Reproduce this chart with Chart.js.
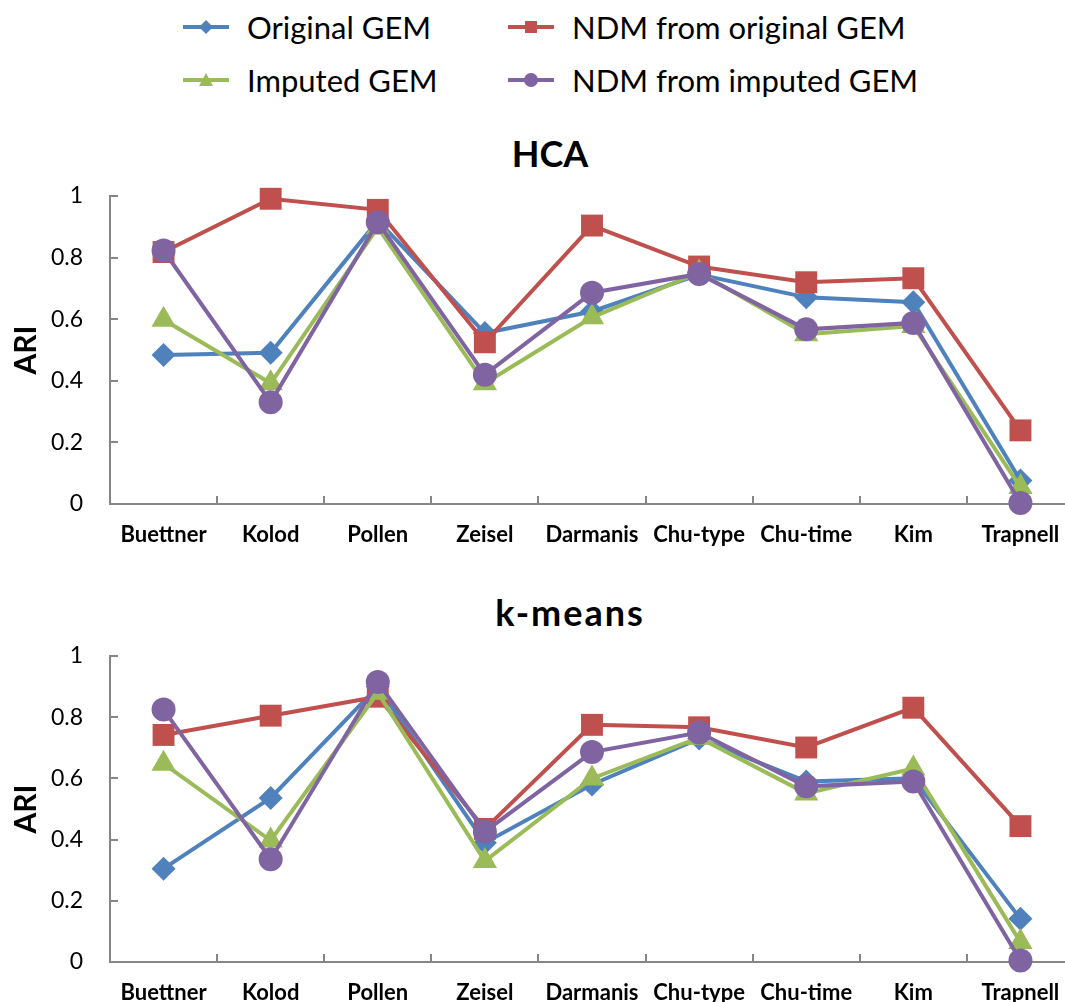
<!DOCTYPE html>
<html>
<head>
<meta charset="utf-8">
<title>ARI of clustering methods</title>
<script src="https://cdn.jsdelivr.net/npm/chart.js@4/dist/chart.umd.min.js"></script>
<style>
  html, body { margin: 0; padding: 0; background: #fff; overflow: hidden; }
  body { width: 1065px; height: 1002px; position: relative; font-family: Lato, "Open Sans", sans-serif; }
  .legend-item { position: absolute; display: flex; align-items: center; height: 40px; font-size: 31px; color: #000; white-space: nowrap; }
  .legend-item svg { margin-right: 18px; }
  .panel-title { position: absolute; transform: translate(-50%, -50%); font-weight: bold; font-size: 36px; color: #000; white-space: nowrap; }
  canvas { position: absolute; left: 0; }
</style>
</head>
<body>
<div id="legend"></div>
<div class="panel-title" id="title1" style="left:550px; top:153px;">HCA</div>
<div class="panel-title" id="title2" style="left:570px; top:612px; letter-spacing:2px;">k-means</div>
<canvas id="hca" width="1100" height="380" style="top:180px"></canvas>
<canvas id="kmeans" width="1100" height="362" style="top:640px"></canvas>
<script>
// Datasets (scRNA-seq benchmarks) on the x axis
const datasets = ['Buettner', 'Kolod', 'Pollen', 'Zeisel', 'Darmanis', 'Chu-type', 'Chu-time', 'Kim', 'Trapnell'];

// Series names
const seriesNames = ['Original GEM', 'NDM from original GEM', 'Imputed GEM', 'NDM from imputed GEM'];

// ARI with hierarchical clustering (HCA)
const hcaOriginal      = [0.484, 0.491, 0.920, 0.555, 0.625, 0.745, 0.671, 0.655, 0.076];
const hcaNdmOriginal   = [0.818, 0.991, 0.955, 0.525, 0.904, 0.771, 0.720, 0.733, 0.239];
const hcaImputed       = [0.598, 0.392, 0.898, 0.392, 0.606, 0.752, 0.551, 0.578, 0.055];
const hcaNdmImputed    = [0.823, 0.330, 0.915, 0.420, 0.686, 0.747, 0.567, 0.588, 0.003];

// ARI with k-means
const kmOriginal       = [0.305, 0.536, 0.900, 0.390, 0.580, 0.730, 0.590, 0.600, 0.141];
const kmNdmOriginal    = [0.742, 0.805, 0.867, 0.435, 0.775, 0.767, 0.701, 0.831, 0.444];
const kmImputed        = [0.648, 0.397, 0.880, 0.330, 0.600, 0.733, 0.551, 0.632, 0.065];
const kmNdmImputed     = [0.825, 0.336, 0.915, 0.426, 0.686, 0.750, 0.574, 0.590, 0.005];

// Y axis ticks and their labels
const yTicks = [0, 0.2, 0.4, 0.6, 0.8, 1];
const yTickLabels = ['0', '0.2', '0.4', '0.6', '0.8', '1'];

const colors = ['#4F81BD', '#C0504D', '#9BBB59', '#8064A2'];
const pointStyles = ['rectRot', 'rect', 'triangle', 'circle'];
const pointRadii = [12, 15.5, 14, 12];
// purple on top, then green, red, blue
const drawOrder = [3, 2, 1, 0];
const axisColor = '#868686';

// HTML legend in two columns
const legendIcons = [
  '<polygon points="23,3 30,10 23,17 16,10" fill="#4F81BD"/>',
  '<rect x="17" y="4" width="12" height="12" fill="#C0504D"/>',
  '<polygon points="23,3 30,16 16,16" fill="#9BBB59"/>',
  '<circle cx="23" cy="10" r="7" fill="#8064A2"/>'
];
const legendPos = [[183, 7], [508, 7], [183, 60], [508, 60]];
const legend = document.getElementById('legend');
seriesNames.forEach((name, i) => {
  const item = document.createElement('div');
  item.className = 'legend-item';
  item.style.left = legendPos[i][0] + 'px';
  item.style.top = legendPos[i][1] + 'px';
  item.innerHTML = '<svg width="46" height="20" viewBox="0 0 46 20">' +
    '<line x1="1" y1="10" x2="45" y2="10" stroke="' + colors[i] + '" stroke-width="4" stroke-linecap="round"/>' +
    legendIcons[i] + '</svg><span>' + name + '</span>';
  legend.appendChild(item);
});

function buildDatasets(values) {
  return values.map((data, i) => ({
    label: seriesNames[i],
    data: data,
    borderColor: colors[i],
    backgroundColor: colors[i],
    pointBackgroundColor: colors[i],
    pointBorderColor: colors[i],
    pointBorderWidth: 0,
    borderWidth: 4,
    pointStyle: pointStyles[i],
    pointRadius: pointRadii[i],
    pointHoverRadius: pointRadii[i],
    tension: 0,
    clip: false,
    order: drawOrder[i]
  }));
}

function makeChart(id, values, xAxisHeight) {
  return new Chart(document.getElementById(id), {
    type: 'line',
    data: { labels: datasets, datasets: buildDatasets(values) },
    options: {
      responsive: false,
      animation: false,
      events: [],
      layout: { padding: { top: 16, right: 26, left: 0, bottom: 0 } },
      plugins: { legend: { display: false }, title: { display: false }, tooltip: { enabled: false } },
      scales: {
        x: {
          type: 'category',
          offset: true,
          grid: { offset: true, drawOnChartArea: false, drawTicks: true, tickLength: -8, color: axisColor, lineWidth: 2 },
          border: { display: true, color: axisColor, width: 2 },
          ticks: { color: '#000', font: { family: 'Lato', size: 22, weight: 'bold' }, padding: 26, maxRotation: 0, autoSkip: false },
          afterFit: (s) => { s.height = xAxisHeight; }
        },
        y: {
          min: 0,
          max: 1,
          afterBuildTicks: (s) => { s.ticks = yTicks.map(v => ({ value: v })); },
          grid: { drawOnChartArea: false, drawTicks: true, tickLength: -8, color: axisColor, lineWidth: 2 },
          border: { display: true, color: axisColor, width: 2 },
          ticks: {
            color: '#000',
            font: { family: 'Lato', size: 23 },
            padding: 35,
            callback: (v) => yTickLabels[yTicks.indexOf(v)] ?? String(v)
          },
          title: { display: true, text: 'ARI', color: '#000', font: { family: 'Lato', size: 30, weight: 'bold' }, padding: { top: 8, bottom: 0 } },
          afterFit: (s) => { s.width = 110; s.paddingTop = 12; s.paddingBottom = 0; }
        }
      }
    }
  });
}

makeChart('hca', [hcaOriginal, hcaNdmOriginal, hcaImputed, hcaNdmImputed], 56);
makeChart('kmeans', [kmOriginal, kmNdmOriginal, kmImputed, kmNdmImputed], 40);
</script>
</body>
</html>
